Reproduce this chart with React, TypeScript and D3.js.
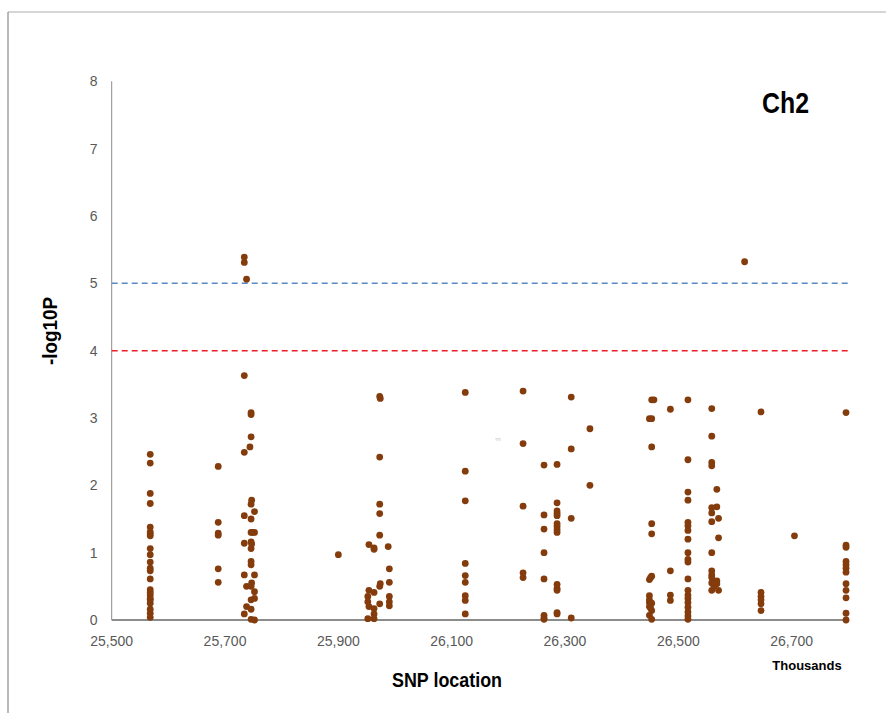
import React from "react";
import * as d3 from "d3";

// SNP location (thousands) and -log10P values
const snpGroups: [number, number[]][] = [
  [25568, [2.46, 2.33, 1.88, 1.73, 1.38, 1.31, 1.28, 1.25, 1.06, 0.97, 0.86, 0.77, 0.73, 0.61, 0.45, 0.41, 0.37, 0.32, 0.3, 0.25, 0.16, 0.1, 0.04]],
  [25688, [2.28, 1.45, 1.29, 1.26, 0.76, 0.56]],
  [25734, [5.39, 5.31, 3.63, 2.49, 1.55, 1.14, 0.67, 0.09]],
  [25738, [5.06, 0.5, 0.2]],
  [25744, [2.57]],
  [25746, [3.08, 3.05, 2.72, 1.72, 1.5, 1.3, 1.16, 1.06, 0.87, 0.82, 0.5, 0.3, 0.16, 0.01]],
  [25747, [1.78, 1.13, 0.55]],
  [25749, [1.3]],
  [25752, [1.61, 1.3, 0.67, 0.42, 0.32, 0.0]],
  [25900, [0.97]],
  [25952, [0.35, 0.27, 0.02]],
  [25954, [1.12, 0.44, 0.2]],
  [25963, [1.05, 1.07, 0.41, 0.17, 0.09, 0.02]],
  [25973, [3.32, 2.42, 1.72, 1.58, 1.26, 0.5, 0.24]],
  [25974, [3.29, 0.54]],
  [25988, [1.09]],
  [25990, [0.76, 0.56, 0.35, 0.27, 0.21]],
  [26124, [3.38, 2.21, 1.77, 0.84, 0.66, 0.56, 0.36, 0.29, 0.09]],
  [26226, [3.4, 2.62, 1.69, 0.7, 0.63]],
  [26263, [2.3, 1.56, 1.35, 1.0, 0.61, 0.07, 0.03, 0.01]],
  [26286, [2.31, 1.74, 1.62, 1.58, 1.55, 1.43, 1.39, 1.34, 1.3, 0.53, 0.47, 0.44, 0.11, 0.09]],
  [26311, [3.31, 2.54, 1.51, 0.03]],
  [26344, [2.84, 2.0]],
  [26449, [2.99, 0.6, 0.36, 0.3, 0.26, 0.2, 0.07]],
  [26451, [0.63, 0.24, 0.18]],
  [26453, [3.27, 2.99, 2.57, 1.43, 1.28, 0.65, 0.25, 0.14, 0.01]],
  [26457, [3.27]],
  [26486, [3.13, 0.73, 0.37, 0.29]],
  [26517, [3.27, 2.38, 1.9, 1.78, 1.45, 1.4, 1.33, 1.2, 1.0, 0.9, 0.86, 0.61, 0.44, 0.37, 0.32, 0.26, 0.19, 0.12, 0.06, 0.01]],
  [26559, [3.14, 2.73, 2.34, 2.29, 1.67, 1.59, 1.46, 1.0, 0.73, 0.67, 0.63, 0.55, 0.44]],
  [26563, [0.5]],
  [26568, [1.94, 1.68, 0.58, 0.54]],
  [26571, [1.51, 1.22, 0.44]],
  [26617, [5.32]],
  [26646, [3.09, 0.41, 0.35, 0.3, 0.24, 0.14]],
  [26705, [1.25]],
  [26796, [3.08, 1.11, 1.08, 0.87, 0.82, 0.77, 0.71, 0.54, 0.44, 0.33, 0.1, 0.0]],
];

const xTicks = [25500, 25700, 25900, 26100, 26300, 26500, 26700];
const yTicks = [0, 1, 2, 3, 4, 5, 6, 7, 8];
const thresholds = [
  { value: 5, color: "#5a8ac6" },
  { value: 4, color: "#ee1c25" },
];

export default function App() {
  const W = 886, H = 713;
  const x = d3.scaleLinear().domain([25500, 26800]).range([111.7, 848.3]);
  const y = d3.scaleLinear().domain([0, 8]).range([620, 81.3]);
  const fmt = d3.format(",");
  const pts = snpGroups.flatMap(([pos, vals]) => vals.map((v) => ({ pos, v })));
  const tickFont = "'Liberation Sans', Arial, sans-serif";
  const boldFont = "'Liberation Sans', Arial, sans-serif";

  return (
    <svg width={W} height={H} style={{ position: "absolute", left: 0, top: 0, background: "#fff" }}>
      <rect x={0} y={0} width={W} height={H} fill="#fff" />
      {/* outer chart border */}
      <line x1={8} y1={12} x2={W} y2={12} stroke="#c8c8c8" strokeWidth={1.5} />
      <line x1={8} y1={12} x2={8} y2={H} stroke="#8a8a8a" strokeWidth={1.2} />

      {/* axes */}
      <line x1={x(25500)} y1={y(8)} x2={x(25500)} y2={y(0)} stroke="#8c8c8c" strokeWidth={1} />
      <line x1={x(25500)} y1={y(0)} x2={x(26800)} y2={y(0)} stroke="#8c8c8c" strokeWidth={1.8} />

      {yTicks.map((t) => (
        <text key={t} x={97.5} y={y(t)} dy="0.35em" textAnchor="end" fontFamily={tickFont} fontSize={14} fill="#595959">
          {t}
        </text>
      ))}
      {xTicks.map((t) => (
        <text key={t} x={x(t)} y={646} textAnchor="middle" fontFamily={tickFont} fontSize={14} fill="#595959">
          {fmt(t)}
        </text>
      ))}

      {thresholds.map((th) => (
        <line key={th.value} x1={x(25500)} x2={x(26800)} y1={y(th.value)} y2={y(th.value)}
          stroke={th.color} strokeWidth={1.5} strokeDasharray="6,4" />
      ))}

      {pts.map((p, i) => (
        <circle key={i} cx={x(p.pos)} cy={y(p.v)} r={3.4} fill="#843c0c" />
      ))}

      <text x={498} y={441} textAnchor="middle" fontFamily={tickFont} fontSize={5} fill="#999">≈≈</text>

      <text x={785.5} y={113} textAnchor="middle" fontFamily={boldFont} fontWeight="bold" fontSize={30}
        textLength={47} lengthAdjust="spacingAndGlyphs" fill="#000">Ch2</text>
      <text x={447} y={687} textAnchor="middle" fontFamily={boldFont} fontWeight="bold" fontSize={21}
        textLength={110} lengthAdjust="spacingAndGlyphs" fill="#000">SNP location</text>
      <text transform="translate(57,331) rotate(-90)" textAnchor="middle" fontFamily={boldFont} fontWeight="bold" fontSize={21}
        textLength={68} lengthAdjust="spacingAndGlyphs" fill="#000">-log10P</text>
      <text x={807} y={670} textAnchor="middle" fontFamily={tickFont} fontWeight="bold" fontSize={13} fill="#000">Thousands</text>
    </svg>
  );
}
